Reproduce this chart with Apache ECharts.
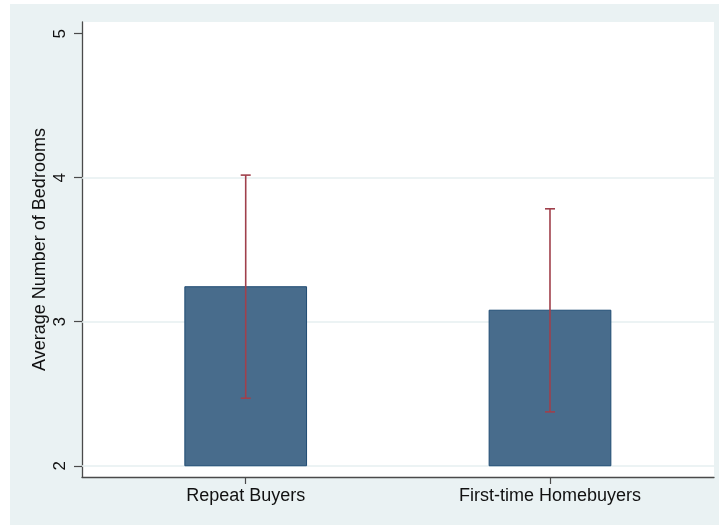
<!DOCTYPE html>
<html>
<head>
<meta charset="utf-8">
<script src="https://cdn.jsdelivr.net/npm/echarts@6/dist/echarts.min.js"></script>
<style>
html, body { margin: 0; padding: 0; background: #fff; }
#main { width: 719px; height: 525px; }
</style>
</head>
<body>
<div id="main"></div>
<script>
// data
var categories = ['Repeat Buyers', 'First-time Homebuyers'];
var meanValues = [3.243, 3.080];
var ciLower = [2.469, 2.374];
var ciUpper = [4.018, 3.784];
var yTicks = [2, 3, 4, 5];
var gridValues = [2, 3, 4];
var barBase = 2;

var xPos = [];
var barData = [];
var errData = [];
for (var i = 0; i < categories.length; i++) {
    xPos.push(i + 1);
    barData.push([i + 1, meanValues[i]]);
    errData.push([i + 1, ciLower[i], ciUpper[i]]);
}

var font = 'Liberation Sans, Arial, sans-serif';
var axisColor = '#4a4a4a';

// bar drawn from barBase up to the mean
function renderBar(params, api) {
    var x = api.value(0);
    var p1 = api.coord([x - 0.2, api.value(1)]);
    var p2 = api.coord([x + 0.2, barBase]);
    return {
        type: 'rect',
        shape: {x: p1[0], y: p1[1], width: p2[0] - p1[0], height: p2[1] - p1[1]},
        style: {fill: '#486c8c', stroke: '#1f4b73', lineWidth: 1}
    };
}

// error bar with caps
function renderErr(params, api) {
    var x = api.value(0);
    var lo = api.coord([x, api.value(1)]);
    var hi = api.coord([x, api.value(2)]);
    var cap = 5;
    var st = {stroke: '#a0404c', lineWidth: 1.6};
    return {
        type: 'group',
        children: [
            {type: 'line', shape: {x1: lo[0], y1: lo[1], x2: hi[0], y2: hi[1]}, style: st},
            {type: 'line', shape: {x1: lo[0] - cap, y1: lo[1], x2: lo[0] + cap, y2: lo[1]}, style: st},
            {type: 'line', shape: {x1: hi[0] - cap, y1: hi[1], x2: hi[0] + cap, y2: hi[1]}, style: st}
        ]
    };
}

var myChart = echarts.init(document.getElementById('main'));
var option = {
    backgroundColor: '#ffffff',
    animation: false,
    graphic: [{
        type: 'rect',
        z: -100,
        silent: true,
        shape: {x: 10, y: 4, width: 709, height: 521},
        style: {fill: '#eaf2f3'}
    }],
    grid: {
        left: 82,
        right: 5,
        top: 22,
        bottom: 48,
        show: true,
        backgroundColor: '#ffffff',
        borderWidth: 0
    },
    xAxis: {
        type: 'value',
        min: 0.462,
        max: 2.539,
        axisLine: {show: true, onZero: false, lineStyle: {color: axisColor, width: 1.3}},
        axisTick: {show: true, length: 7, customValues: xPos, lineStyle: {color: axisColor, width: 1.2}},
        axisLabel: {
            customValues: xPos,
            margin: 10,
            fontSize: 18,
            color: '#111',
            fontFamily: font,
            formatter: function (v) {
                return categories[Math.round(v) - 1];
            }
        },
        splitLine: {show: false}
    },
    yAxis: {
        type: 'value',
        min: 1.922,
        max: 5.081,
        name: 'Average Number of Bedrooms',
        nameLocation: 'middle',
        nameGap: 33,
        nameMoveOverlap: false,
        nameTextStyle: {fontSize: 18, color: '#111', fontFamily: font},
        axisLine: {show: true, onZero: false, lineStyle: {color: axisColor, width: 1.3}},
        axisTick: {show: true, length: 8, customValues: yTicks, lineStyle: {color: axisColor, width: 1.2}},
        axisLabel: {
            customValues: yTicks,
            rotate: 90,
            margin: 13,
            fontSize: 17,
            color: '#111',
            fontFamily: font
        },
        splitLine: {show: false}
    },
    series: [{
        name: 'mean',
        type: 'custom',
        renderItem: renderBar,
        encode: {x: 0, y: 1},
        data: barData,
        z: 10,
        markLine: {
            silent: true,
            symbol: ['none', 'none'],
            z: 1,
            label: {show: false},
            lineStyle: {color: '#e6eff1', width: 1.5, type: 'solid'},
            data: gridValues.map(function (v) { return {yAxis: v}; })
        }
    }, {
        name: 'ci',
        type: 'custom',
        renderItem: renderErr,
        encode: {x: 0, y: [1, 2]},
        data: errData,
        z: 11
    }]
};
myChart.setOption(option);
</script>
</body>
</html>
